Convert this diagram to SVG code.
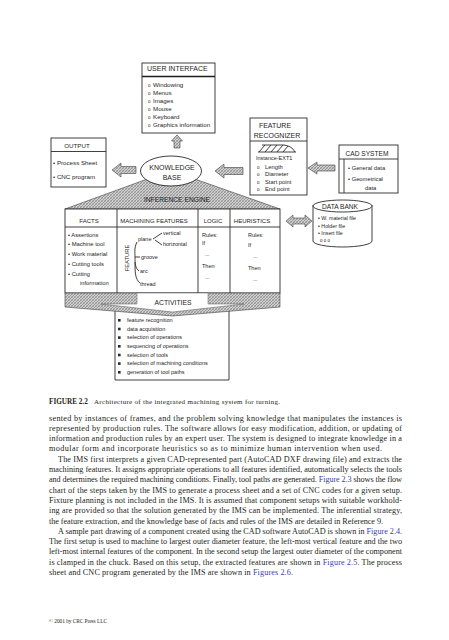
<svg xmlns="http://www.w3.org/2000/svg" width="449" height="640" viewBox="0 0 449 640">
<defs>
<pattern id="hatch" width="3" height="3" patternUnits="userSpaceOnUse">
<rect width="3" height="3" fill="#cfcfcf"/>
<path d="M0,3 L3,0 M-1,1 L1,-1 M2,4 L4,2" stroke="#707070" stroke-width="0.6"/>
<path d="M0,0 L3,3" stroke="#969696" stroke-width="0.5"/>
</pattern>
<style>
.f{font-family:"Liberation Sans",Arial,sans-serif;fill:#1e1e1e}
.t7{font-size:7px}.t6{font-size:6.2px}.t58{font-size:5.8px}.t55{font-size:5.5px}
.mid{text-anchor:middle}
.box{fill:#fff;stroke:#2a2a2a;stroke-width:0.9}
.ln{fill:none;stroke:#2a2a2a;stroke-width:0.9}
.ar{fill:url(#hatch);stroke:#404040;stroke-width:0.6}
.o{font-size:4.5px}
.b{font-family:"Liberation Serif","Times New Roman",serif;font-size:8.2px;fill:#231f20}
.lk{fill:#3b40b0}
</style>
</defs>
<rect width="449" height="640" fill="#fff"/>

<g id="connectors">
<polygon class="ar" points="177,135 182.5,141 180,141 180,148 174,148 174,141 171.5,141"/>
<polygon class="ar" points="112,170 121,163 121,166.5 136,166.5 136,173.5 121,173.5 121,177"/>
<polygon class="ar" points="215,171 224,164 224,167.5 243,167.5 243,174.5 224,174.5 224,178"/>
<polygon class="ar" points="308,168 317,162 317,165 335,165 335,171 317,171 317,174"/>
<polygon class="ar" points="286,221 293,215 293,218 305,218 305,215 312,221 305,227 305,224 293,224 293,227"/>
</g>

<g id="user-interface">
<rect class="box" x="142" y="63" width="73" height="70"/>
<text class="f t7" x="147" y="70.5">USER INTERFACE</text>
<line x1="142" y1="76.5" x2="215" y2="76.5" stroke="#1e1e1e" stroke-width="1.6"/>
<text class="f t6" x="148" y="87"><tspan class="o">o</tspan><tspan x="153">Windowing</tspan></text>
<text class="f t6" x="148" y="95"><tspan class="o">o</tspan><tspan x="153">Menus</tspan></text>
<text class="f t6" x="148" y="103"><tspan class="o">o</tspan><tspan x="153">Images</tspan></text>
<text class="f t6" x="148" y="111"><tspan class="o">o</tspan><tspan x="153">Mouse</tspan></text>
<text class="f t6" x="148" y="119"><tspan class="o">o</tspan><tspan x="153">Keyboard</tspan></text>
<text class="f t6" x="148" y="127"><tspan class="o">o</tspan><tspan x="153">Graphics information</tspan></text>
</g>

<g id="output">
<rect class="box" x="51" y="138" width="55" height="49"/>
<text class="f t6 mid" x="77" y="147.5">OUTPUT</text>
<line class="ln" x1="51" y1="151.5" x2="106" y2="151.5"/>
<text class="f t6" x="53" y="164.5">• Process Sheet</text>
<text class="f t6" x="53" y="178.5">• CNC program</text>
</g>

<g id="inference-engine">
<polygon class="ar" points="65,209 150,178 192,178 280,209"/>
<text class="f mid" x="177" y="201.5" font-size="6.7">INFERENCE ENGINE</text>
</g>

<g id="knowledge-base">
<ellipse class="box" cx="171" cy="171" rx="30.5" ry="15"/>
<text class="f t7 mid" x="172" y="169.5">KNOWLEDGE</text>
<text class="f t7 mid" x="172" y="179.5">BASE</text>
</g>

<g id="feature-recognizer">
<rect class="box" x="250" y="118" width="57" height="77"/>
<text class="f t7 mid" x="275" y="127.5">FEATURE</text>
<text class="f t7 mid" x="277" y="137.5">RECOGNIZER</text>
<line class="ln" x1="250" y1="141" x2="307" y2="141"/>
<path class="ln" stroke-width="0.6" d="M262,145 H284 Q292,146 295,152 M258,152 H296 M259,152 L265,145 M265,152 L271,145 M271,152 L277,145 M277,152 L283,145 M283,152 L288,146"/>
<text class="f t55" x="256" y="160">Instance-EXT1</text>
<text class="f t58" x="257" y="168.5"><tspan class="o">o</tspan><tspan x="265">Length</tspan></text>
<text class="f t58" x="257" y="176"><tspan class="o">o</tspan><tspan x="265">Diameter</tspan></text>
<text class="f t58" x="257" y="183.5"><tspan class="o">o</tspan><tspan x="265">Start point</tspan></text>
<text class="f t58" x="257" y="191"><tspan class="o">o</tspan><tspan x="265">End point</tspan></text>
</g>

<g id="cad-system">
<rect class="box" x="339" y="145" width="59" height="48"/>
<text class="f mid" x="367" y="155.5" font-size="6.6">CAD SYSTEM</text>
<line class="ln" x1="339" y1="159" x2="398" y2="159"/>
<line class="ln" x1="344" y1="159" x2="344" y2="193"/>
<text class="f t58" x="348" y="170">• General data</text>
<text class="f t58" x="348" y="181">• Geometrical</text>
<text class="f t58" x="365" y="190">data</text>
</g>

<g id="data-bank">
<path class="box" d="M313,205 V241 A29.5,6 0 0 0 372,241 V205"/>
<ellipse class="box" cx="342.5" cy="206" rx="29.5" ry="6"/>
<text class="f mid" x="340" y="208.5" font-size="6.6">DATA BANK</text>
<text class="f" font-size="5.3" x="318" y="220">• W. material file</text>
<text class="f" font-size="5.3" x="318" y="228">• Holder file</text>
<text class="f" font-size="5.3" x="318" y="235">• Insert file</text>
<text class="f" font-size="4.5" x="320" y="241.5">o o o</text>
</g>

<g id="activities-box">
<path class="ln" d="M115,306 V380 H229 V306"/>
<g fill="#2a2a2a">
<rect x="118" y="319" width="2.6" height="2.6"/>
<rect x="118" y="327.7" width="2.6" height="2.6"/>
<rect x="118" y="336.3" width="2.6" height="2.6"/>
<rect x="118" y="345" width="2.6" height="2.6"/>
<rect x="118" y="353.7" width="2.6" height="2.6"/>
<rect x="118" y="362.3" width="2.6" height="2.6"/>
<rect x="118" y="371" width="2.6" height="2.6"/>
</g>
<text class="f t55" x="127" y="322">feature recognition</text>
<text class="f t55" x="127" y="330.7">data acquisition</text>
<text class="f t55" x="127" y="339.3">selection of operations</text>
<text class="f t55" x="127" y="348">sequencing of operations</text>
<text class="f t55" x="127" y="356.7">selection of tools</text>
<text class="f t55" x="127" y="365.3">selection of machining conditions</text>
<text class="f t55" x="127" y="374">generation of tool paths</text>
</g>

<g id="table">
<rect class="box" x="65" y="209" width="215" height="84"/>
<line class="ln" x1="65" y1="227" x2="280" y2="227"/>
<line class="ln" x1="117" y1="209" x2="117" y2="293"/>
<line class="ln" x1="198" y1="209" x2="198" y2="293"/>
<line class="ln" x1="230" y1="209" x2="230" y2="293"/>
<text class="f mid" font-size="6" x="89" y="223">FACTS</text>
<text class="f mid" font-size="6" x="154" y="223">MACHINING FEATURES</text>
<text class="f mid" font-size="6" x="213" y="223">LOGIC</text>
<text class="f mid" font-size="6" x="252" y="223">HEURISTICS</text>
<text class="f t58" x="68" y="237">• Assertions</text>
<text class="f t58" x="68" y="246">• Machine tool</text>
<text class="f t58" x="68" y="256">• Work material</text>
<text class="f t58" x="68" y="266">• Cutting tools</text>
<text class="f t58" x="68" y="276">• Cutting</text>
<text class="f t58" x="80" y="285">information</text>
<text class="f t58 mid" transform="translate(129,258) rotate(-90)">FEATURE</text>
<text class="f t55" x="138" y="241">plane</text>
<text class="f t55" x="163" y="235">vertical</text>
<text class="f t55" x="163" y="246">horizontal</text>
<text class="f t55" x="141" y="259">groove</text>
<text class="f t55" x="140" y="273">arc</text>
<text class="f t55" x="140" y="286">thread</text>
<path class="ln" stroke-width="0.6" d="M153,239 L162,233 M155,240 L162,245 M137,242 C134,248 135,252 135,257 H140 M135,257 C135,263 135,268 139,271 M135,262 C135,272 135,279 140,283"/>
<text class="f t55" x="202" y="237">Rules:</text>
<text class="f t55" x="202" y="245">If</text>
<text class="f t55" x="205" y="256" fill="#777">...</text>
<text class="f t55" x="202" y="268">Then</text>
<text class="f t55" x="205" y="279" fill="#777">...</text>
<text class="f t55" x="248" y="237">Rules:</text>
<text class="f t55" x="248" y="247">If</text>
<text class="f t55" x="253" y="258" fill="#777">...</text>
<text class="f t55" x="248" y="270">Then</text>
<text class="f t55" x="253" y="281" fill="#777">...</text>
</g>

<g id="activities-band">
<polygon class="ar" points="65,293 280,293 280,307 172.5,316 65,307"/>
<polygon fill="#fff" stroke="#555" stroke-width="0.5" points="137,293 208,293 208,304 244,304 172.5,312 101,304 137,304"/>
<text class="f mid" font-size="6.8" x="173" y="305">ACTIVITIES</text>
</g>

<g id="caption">
<text x="49" y="403.5" font-family="Liberation Serif,'Times New Roman',serif" font-size="7.2" font-weight="bold" fill="#231f20">FIGURE 2.2</text>
<text x="94" y="403.5" font-family="Liberation Serif,'Times New Roman',serif" font-size="7" fill="#231f20" textLength="186" lengthAdjust="spacing">Architecture of the integrated machining system for turning.</text>
</g>

<g id="body-text">
<text class="b" x="49" y="420.5" textLength="353" lengthAdjust="spacing">sented by instances of frames, and the problem solving knowledge that manipulates the instances is</text>
<text class="b" x="49" y="430.8" textLength="353" lengthAdjust="spacing">represented by production rules. The software allows for easy modification, addition, or updating of</text>
<text class="b" x="49" y="441.1" textLength="353" lengthAdjust="spacing">information and production rules by an expert user. The system is designed to integrate knowledge in a</text>
<text class="b" x="49" y="451.4" textLength="333" lengthAdjust="spacing">modular form and incorporate heuristics so as to minimize human intervention when used.</text>
<text class="b" x="58" y="461.7" textLength="344" lengthAdjust="spacing">The IMS first interprets a given CAD-represented part (AutoCAD DXF drawing file) and extracts the</text>
<text class="b" x="49" y="472" textLength="353" lengthAdjust="spacing">machining features. It assigns appropriate operations to all features identified, automatically selects the tools</text>
<text class="b" x="49" y="482.3" textLength="353" lengthAdjust="spacing">and determines the required machining conditions. Finally, tool paths are generated. <tspan class="lk">Figure 2.3</tspan> shows the flow</text>
<text class="b" x="49" y="492.6" textLength="353" lengthAdjust="spacing">chart of the steps taken by the IMS to generate a process sheet and a set of CNC codes for a given setup.</text>
<text class="b" x="49" y="502.9" textLength="353" lengthAdjust="spacing">Fixture planning is not included in the IMS. It is assumed that component setups with suitable workhold-</text>
<text class="b" x="49" y="513.2" textLength="353" lengthAdjust="spacing">ing are provided so that the solution generated by the IMS can be implemented. The inferential strategy,</text>
<text class="b" x="49" y="523.5" textLength="334" lengthAdjust="spacing">the feature extraction, and the knowledge base of facts and rules of the IMS are detailed in Reference 9.</text>
<text class="b" x="58" y="533.8" textLength="344" lengthAdjust="spacing">A sample part drawing of a component created using the CAD software AutoCAD is shown in <tspan class="lk">Figure 2.4</tspan>.</text>
<text class="b" x="49" y="544.1" textLength="353" lengthAdjust="spacing">The first setup is used to machine to largest outer diameter feature, the left-most vertical feature and the two</text>
<text class="b" x="49" y="554.4" textLength="353" lengthAdjust="spacing">left-most internal features of the component. In the second setup the largest outer diameter of the component</text>
<text class="b" x="49" y="564.7" textLength="353" lengthAdjust="spacing">is clamped in the chuck. Based on this setup, the extracted features are shown in <tspan class="lk">Figure 2.5</tspan>. The process</text>
<text class="b" x="49" y="575" textLength="244" lengthAdjust="spacing">sheet and CNC program generated by the IMS are shown in <tspan class="lk">Figures 2.6</tspan>.</text>
</g>

<g id="footer">
<text x="49" y="623" font-family="Liberation Serif,'Times New Roman',serif" font-size="5.4" fill="#231f20" textLength="58" lengthAdjust="spacing">© 2001 by CRC Press LLC</text>
</g>
</svg>
